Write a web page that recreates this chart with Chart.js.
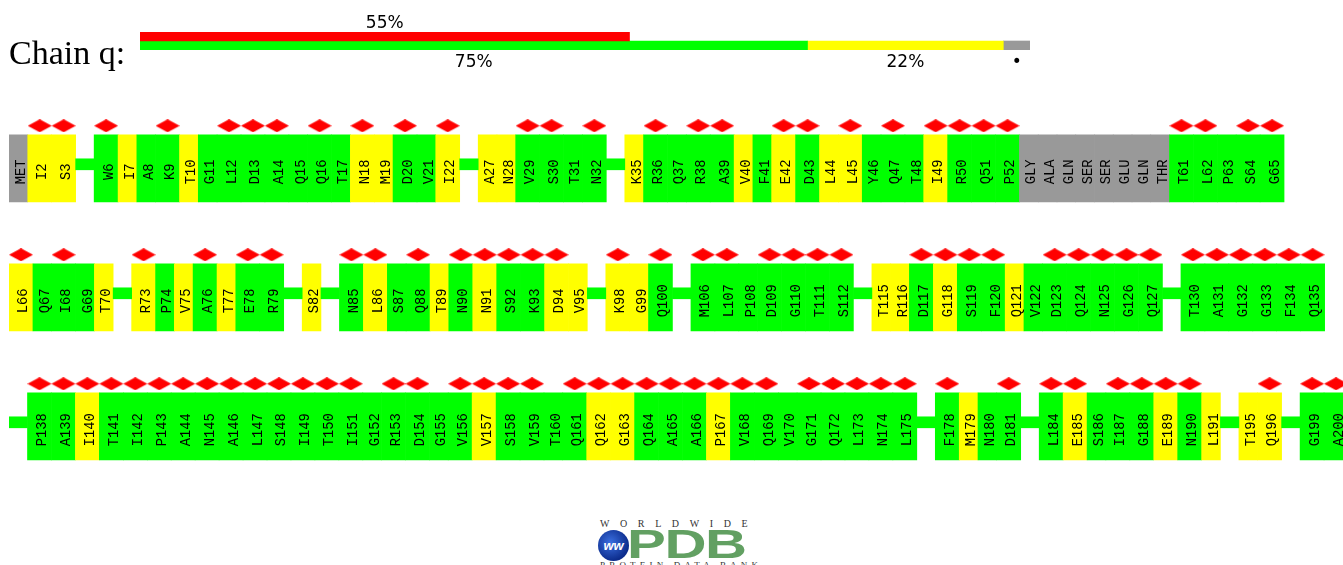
<!DOCTYPE html>
<html>
<head>
  <meta charset="utf-8">
  <script src="https://cdn.jsdelivr.net/npm/chart.js"></script>
  <style>
    body { margin: 0; background: #fff; width: 1343px; height: 565px; overflow: hidden; position: relative; }
    canvas { position: absolute; }
    #summary { left: 0; top: 0; }
    #residues { left: 9px; top: 90px; }
    .logo { position: absolute; white-space: nowrap; }
    #ww-text { left: 600px; top: 518px; font: 10px "Liberation Serif"; letter-spacing: 10.6px; color: #333; }
    #globe { left: 598px; top: 530px; width: 31px; height: 31px; border-radius: 50%;
      background: radial-gradient(circle at 40% 40%, #3b6fe0, #0c2c8c 70%);
      color: #fff; font: italic bold 13px "Liberation Sans"; text-align: center; line-height: 31px; }
    #pdb { left: 627px; top: 521px; font: bold 41px "Liberation Sans"; color: #62a062;
      transform: scaleX(1.42); transform-origin: left top; letter-spacing: -1px; }
    #pdb-sub { left: 600px; top: 560px; font: 9px "Liberation Serif"; letter-spacing: 4.2px; color: #333; }
  </style>
  <script>
    var chainTitle = 'Chain q:';

    // share of residues: density outliers, then geometry quality (0 outliers / 1 outlier / not modelled)
    var densityPercent = [55];
    var qualityPercent = [75, 22, 3];
    var qualityColors = ['#00ff00', '#ffff00', '#999999'];

    // '-' stands for a condensed stretch of residues without outliers
    var residuesRow1 = ['MET', 'I2', 'S3', '-', 'W6', 'I7', 'A8', 'K9', 'T10', 'G11', 'L12', 'D13', 'A14', 'Q15',
      'Q16', 'T17', 'N18', 'M19', 'D20', 'V21', 'I22', '-', 'A27', 'N28', 'V29', 'S30', 'T31', 'N32', '-', 'K35',
      'R36', 'Q37', 'R38', 'A39', 'V40', 'F41', 'E42', 'D43', 'L44', 'L45', 'Y46', 'Q47', 'T48', 'I49', 'R50',
      'Q51', 'P52', 'GLY', 'ALA', 'GLN', 'SER', 'SER', 'GLU', 'GLN', 'THR', 'T61', 'L62', 'P63', 'S64', 'G65'];
    var residuesRow2 = ['L66', 'Q67', 'I68', 'G69', 'T70', '-', 'R73', 'P74', 'V75', 'A76', 'T77', 'E78', 'R79',
      '-', 'S82', '-', 'N85', 'L86', 'S87', 'Q88', 'T89', 'N90', 'N91', 'S92', 'K93', 'D94', 'V95', '-', 'K98',
      'G99', 'Q100', '-', 'M106', 'L107', 'P108', 'D109', 'G110', 'T111', 'S112', '-', 'T115', 'R116', 'D117',
      'G118', 'S119', 'F120', 'Q121', 'V122', 'D123', 'Q124', 'N125', 'G126', 'Q127', '-', 'T130', 'A131',
      'G132', 'G133', 'F134', 'Q135'];
    var residuesRow3 = ['-', 'P138', 'A139', 'I140', 'T141', 'I142', 'P143', 'A144', 'N145', 'A146', 'L147',
      'S148', 'I149', 'T150', 'I151', 'G152', 'R153', 'D154', 'G155', 'V156', 'V157', 'S158', 'V159', 'T160',
      'Q161', 'Q162', 'G163', 'Q164', 'A165', 'A166', 'P167', 'V168', 'Q169', 'V170', 'G171', 'Q172', 'L173',
      'N174', 'L175', '-', 'F178', 'M179', 'N180', 'D181', '-', 'L184', 'E185', 'S186', 'I187', 'G188', 'E189',
      'N190', 'L191', '-', 'T195', 'Q196', '-', 'G199', 'A200'];

    // residues with one geometry outlier
    var oneOutlier = ['I2', 'S3', 'I7', 'T10', 'N18', 'M19', 'I22', 'A27', 'N28', 'K35', 'V40', 'E42', 'L44',
      'L45', 'I49', 'L66', 'T70', 'R73', 'V75', 'T77', 'S82', 'L86', 'T89', 'N91', 'D94', 'V95', 'K98', 'G99',
      'T115', 'R116', 'G118', 'Q121', 'I140', 'V157', 'Q162', 'G163', 'P167', 'M179', 'E185', 'E189', 'L191',
      'T195', 'Q196'];

    // residues with poor fit to the electron density (RSRZ > 2)
    var densityOutliers = ['I2', 'S3', 'W6', 'K9', 'L12', 'D13', 'A14', 'Q16', 'N18', 'D20', 'I22', 'V29', 'S30',
      'N32', 'R36', 'R38', 'A39', 'E42', 'D43', 'L45', 'Q47', 'I49', 'R50', 'Q51', 'P52', 'T61', 'L62', 'S64',
      'G65', 'L66', 'I68', 'R73', 'A76', 'E78', 'R79', 'N85', 'L86', 'Q88', 'N90', 'N91', 'S92', 'K93', 'D94',
      'K98', 'Q100', 'M106', 'L107', 'D109', 'G110', 'T111', 'S112', 'D117', 'G118', 'S119', 'F120', 'D123',
      'Q124', 'N125', 'G126', 'Q127', 'T130', 'A131', 'G132', 'G133', 'F134', 'Q135', 'P138', 'A139', 'I140',
      'T141', 'I142', 'P143', 'A144', 'N145', 'A146', 'L147', 'S148', 'I149', 'T150', 'I151', 'R153', 'D154',
      'V156', 'V157', 'S158', 'V159', 'Q161', 'Q162', 'G163', 'Q164', 'A165', 'A166', 'P167', 'V168', 'Q169',
      'G171', 'Q172', 'L173', 'N174', 'L175', 'F178', 'D181', 'L184', 'E185', 'I187', 'G188', 'E189', 'N190',
      'Q196', 'G199', 'A200'];

    // slot widths, in units of a plain residue
    var SLOT_PX = 18.75;
    var WIDE_SLOT = 23.95 / SLOT_PX;
    var LINK_SLOT = 18.5 / SLOT_PX;
    var ROW_PX = 129;

    var GREEN = '#00ff00', YELLOW = '#ffff00', GREY = '#999999', RED = '#ff0000';

    function layoutRow(residues, row) {
      var pos = 0;
      return residues.map(function (name) {
        var item = { row: row, name: name, start: pos };
        if (name === '-') {
          item.link = true;
          pos += LINK_SLOT;
        } else {
          item.outlier = densityOutliers.indexOf(name) >= 0;
          if (/^[A-Z]{3}$/.test(name)) item.color = GREY;
          else if (oneOutlier.indexOf(name) >= 0) item.color = YELLOW;
          else item.color = GREEN;
          pos += item.outlier ? WIDE_SLOT : 1;
        }
        item.end = pos;
        item.mid = (item.start + item.end) / 2;
        return item;
      });
    }

    function diamondStyle() {
      var c = document.createElement('canvas');
      c.width = 24; c.height = 13;
      var g = c.getContext('2d');
      g.fillStyle = RED;
      g.beginPath();
      g.moveTo(0, 6.5); g.lineTo(12, 0); g.lineTo(24, 6.5); g.lineTo(12, 13);
      g.closePath();
      g.fill();
      return c;
    }

    function drawSummary() {
      var ctx = document.getElementById('summary').getContext('2d');
      var datasets = [{ data: [densityPercent[0], null], backgroundColor: RED }];
      qualityPercent.forEach(function (v, i) {
        datasets.push({ data: [null, v], backgroundColor: qualityColors[i] });
      });

      var summaryLabels = {
        id: 'summaryLabels',
        afterDatasetsDraw: function (chart) {
          var c = chart.ctx;
          c.save();
          c.fillStyle = '#000';
          c.font = '34px "Liberation Serif"';
          c.textAlign = 'left';
          c.textBaseline = 'alphabetic';
          c.fillText(chainTitle, 9, 64);

          c.font = '17px "DejaVu Sans"';
          c.textAlign = 'center';
          chart.data.datasets.forEach(function (ds, di) {
            var meta = chart.getDatasetMeta(di);
            meta.data.forEach(function (bar, i) {
              var v = ds.data[i];
              if (v == null) return;
              var cx = (bar.x + bar.base) / 2;
              var w = Math.abs(bar.x - bar.base);
              var text = w < 40 ? '\u2022' : v + '%';
              if (i === 0) c.fillText(text, cx, chart.chartArea.top - 4);
              else c.fillText(text, cx, chart.chartArea.bottom + 17);
            });
          });
          c.restore();
        }
      };

      new Chart(ctx, {
        type: 'bar',
        data: { labels: ['density', 'quality'], datasets: datasets },
        options: {
          indexAxis: 'y',
          responsive: false,
          animation: false,
          events: [],
          layout: { autoPadding: false, padding: { left: 140, right: 10, top: 32, bottom: 25 } },
          datasets: { bar: { barPercentage: 1, categoryPercentage: 1, borderWidth: 0 } },
          scales: {
            x: { display: false, stacked: true, min: 0, max: 100 },
            y: { display: false, stacked: true }
          },
          plugins: { legend: { display: false }, tooltip: { enabled: false } }
        },
        plugins: [summaryLabels]
      });
    }

    function drawResidues() {
      var canvas = document.getElementById('residues');
      var items = [].concat(layoutRow(residuesRow1, 0), layoutRow(residuesRow2, 1), layoutRow(residuesRow3, 2));
      var boxes = items.filter(function (it) { return !it.link; });
      var links = items.filter(function (it) { return it.link; });
      var marked = boxes.filter(function (it) { return it.outlier; });

      var yMin = -78.3 / ROW_PX;
      var yMax = yMin + canvas.height / ROW_PX;

      var residueLabels = {
        id: 'residueLabels',
        afterDatasetsDraw: function (chart) {
          var c = chart.ctx, xs = chart.scales.x, ys = chart.scales.y;
          c.save();
          c.fillStyle = '#000';
          c.font = '15px "Liberation Mono"';
          c.textAlign = 'center';
          c.textBaseline = 'alphabetic';
          boxes.forEach(function (it) {
            c.save();
            c.translate(xs.getPixelForValue(it.mid), ys.getPixelForValue(it.row) + 3.5);
            c.rotate(-Math.PI / 2);
            c.scale(0.92, 1);
            c.fillText(it.name, 0, 6.5);
            c.restore();
          });
          c.restore();
        }
      };

      new Chart(canvas.getContext('2d'), {
        type: 'bar',
        data: {
          datasets: [
            {
              type: 'bar',
              indexAxis: 'y',
              grouped: false,
              barThickness: 11,
              borderWidth: 0,
              backgroundColor: GREEN,
              data: links.map(function (it) { return { x: [it.start, it.end], y: it.row - 4 / ROW_PX }; })
            },
            {
              type: 'bar',
              indexAxis: 'y',
              grouped: false,
              barThickness: 67,
              borderWidth: 0,
              backgroundColor: boxes.map(function (it) { return it.color; }),
              data: boxes.map(function (it) { return { x: [it.start, it.end], y: it.row }; })
            },
            {
              type: 'scatter',
              pointStyle: diamondStyle(),
              pointRadius: 6,
              data: marked.map(function (it) { return { x: it.mid, y: it.row - 42.5 / ROW_PX }; })
            }
          ]
        },
        options: {
          indexAxis: 'y',
          responsive: false,
          animation: false,
          events: [],
          layout: { autoPadding: false, padding: 0 },
          scales: {
            x: { type: 'linear', display: false, min: 0, max: canvas.width / SLOT_PX, offset: false },
            y: { type: 'linear', display: false, reverse: true, min: yMin, max: yMax, offset: false }
          },
          plugins: { legend: { display: false }, tooltip: { enabled: false } }
        },
        plugins: [residueLabels]
      });
    }

    window.onload = function () {
      drawSummary();
      drawResidues();
    };
  </script>
</head>
<body>
  <canvas id="summary" width="1040" height="75"></canvas>
  <canvas id="residues" width="1334" height="380"></canvas>
  <div class="logo" id="ww-text">WORLDWIDE</div>
  <div class="logo" id="globe">ww</div>
  <div class="logo" id="pdb">PDB</div>
  <div class="logo" id="pdb-sub">PROTEIN DATA BANK</div>
</body>
</html>
